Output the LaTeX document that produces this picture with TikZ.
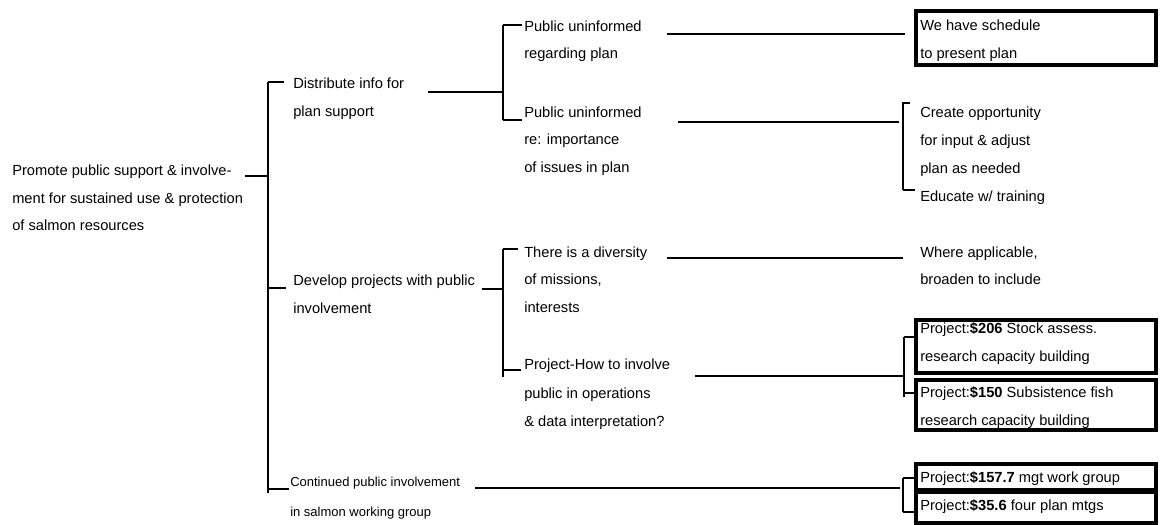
\documentclass[tikz,border=0pt]{standalone}
\usepackage{fontspec}
\setmainfont{Liberation Sans}
\begin{document}
\begin{tikzpicture}[x=0.75pt,y=-0.75pt,
  txt/.style={anchor=base west, inner sep=0pt, align=left, font=\fontsize{11}{20.6}\selectfont},
  ln/.style={line width=1.1pt},
  bx/.style={draw, line width=3pt, minimum width=180pt, inner sep=0pt}]
\useasboundingbox (0,0) rectangle (1161,525);

% text nodes (anchored at the baseline of their last line)
\node[txt] (root) at (12,230.5) {Promote public support \& involve-\\ment for sustained use \& protection\\of salmon resources};
\node[txt] (dist) at (293,116) {Distribute info for\\plan support};
\node[txt] (pu1) at (524,58.5) {Public uninformed\\regarding plan};
\node[txt] (pu2) at (524,172) {Public uninformed\\re: importance\\of issues in plan};
\node[txt] (sched) at (920,58) {We have schedule\\to present plan};
\node[txt, font=\fontsize{11}{20.8}\selectfont] (create) at (920,201) {Create opportunity\\for input \& adjust\\plan as needed\\Educate w/ training};
\node[txt] (dev) at (293,313) {Develop projects with public\\involvement};
\node[txt] (div) at (524,312) {There is a diversity\\of missions,\\interests};
\node[txt, font=\fontsize{11}{21.2}\selectfont] (how) at (524,426.5) {Project-How to involve\\public in operations\\\& data interpretation?};
\node[txt] (where) at (920,284.5) {Where applicable,\\broaden to include};
\node[txt, font=\fontsize{9.75}{22.5}\selectfont] (cont) at (290,516) {Continued public involvement\\in salmon working group};
\node[txt] (p206) at (920,361) {Project:\textbf{\$206} Stock assess.\\research capacity building};
\node[txt] (p150) at (920,425) {Project:\textbf{\$150} Subsistence fish\\research capacity building};
\node[txt] (p157) at (920,482) {Project:\textbf{\$157.7} mgt work group};
\node[txt] (p35) at (920,510) {Project:\textbf{\$35.6} four plan mtgs};

% boxes
\node[bx, minimum height=40.5pt] (bS) at (1036,38) {};
\node[bx, minimum height=39.75pt] (b1) at (1036,346.5) {};
\node[bx, minimum height=37.5pt] (b2) at (1036,405) {};
\node[bx, minimum height=19.5pt] (b3) at (1036,477) {};
\node[bx, minimum height=22.9pt] (b4) at (1036,507.25) {};

% main bracket
\coordinate (mJ) at (268,176);
\coordinate (mT) at (268,82);
\coordinate (mM) at (268,288);
\coordinate (mB) at (268,489);
\coordinate (mE) at (268,493);
\draw[ln] ([xshift=1.5pt]root.east |- mJ) -- (mJ);
\draw[ln] (mT) -- (mE);
\draw[ln] (mT) -- ([xshift=-6.75pt]dist.west |- mT);
\draw[ln] (mM) -- ([xshift=-5.25pt]dev.west |- mM);
\draw[ln] (mB) -- ([xshift=-0.5pt]cont.west |- mB);

% distribute bracket
\coordinate (dJ) at (503,92);
\coordinate (dT) at (503,25);
\coordinate (dB) at (503,120);
\draw[ln] ([xshift=18pt]dist.east |- dJ) -- (dJ);
\draw[ln] (dT) -- (dB);
\draw[ln] (dT) -- ([xshift=-1.5pt]pu1.west |- dT);
\draw[ln] (dB) -- ([xshift=-1.5pt]pu2.west |- dB);

% right connectors, upper part
\coordinate (a1) at (667,34);
\coordinate (a2) at (905,34);
\draw[ln] (a1) -- (a2);
\coordinate (c1) at (678,122);
\coordinate (c2) at (899,122);
\draw[ln] (c1) -- (c2);
\coordinate (cT) at (903,103);
\coordinate (cB) at (903,190);
\draw[ln] (cT) -- (cB);
\draw[ln] ([xshift=-0.75pt]cT) -- ([xshift=-7.5pt]create.west |- cT);
\draw[ln] (cB) -- ([xshift=-3.75pt]create.west |- cB);

% develop bracket
\coordinate (vJ) at (503,289);
\coordinate (vT) at (503,249);
\coordinate (vH) at (503,370);
\coordinate (vE) at (503,377);
\draw[ln] ([xshift=5pt]dev.east |- vJ) -- (vJ);
\draw[ln] (vT) -- (vE);
\draw[ln] (vT) -- ([xshift=-4.5pt]div.west |- vT);
\draw[ln] (vH) -- ([xshift=-2.25pt]how.west |- vH);

\coordinate (e1) at (667,258);
\coordinate (e2) at (903,258);
\draw[ln] (e1) -- (e2);

\coordinate (h1) at (695,376);
\coordinate (h2) at (904,376);
\draw[ln] (h1) -- (h2);
\coordinate (hT) at (904,337);
\coordinate (hB) at (904,393);
\coordinate (hE) at (904,397);
\draw[ln] (hT) -- (hE);
\draw[ln] (hT) -- (b1.west |- hT);
\draw[ln] (hB) -- (b2.west |- hB);

% continued
\coordinate (k1) at (475,488);
\coordinate (k2) at (900,488);
\draw[ln] (k1) -- (k2);
\coordinate (kT) at (903,478);
\coordinate (kB) at (903,512);
\draw[ln] (kT) -- (kB);
\draw[ln] (kT) -- (b3.west |- kT);
\draw[ln] (kB) -- (b4.west |- kB);
\end{tikzpicture}
\end{document}
